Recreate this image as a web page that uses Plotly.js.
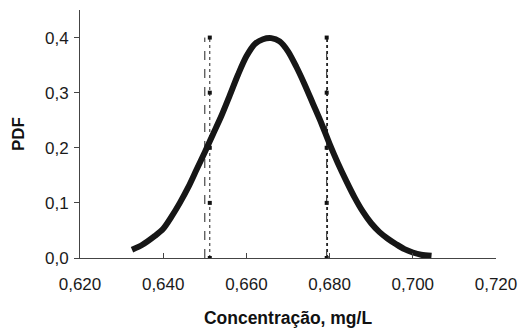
<!DOCTYPE html>
<html>
<head>
<meta charset="utf-8">
<script src="https://cdn.plot.ly/plotly-3.0.1.min.js"></script>
<style>html,body{margin:0;padding:0;background:#fff;}#chart{width:519px;height:328px;}</style>
</head>
<body>
<div id="chart"></div>
<script>
// PDF curve
const concentration = [0.6325, 0.635, 0.638, 0.640, 0.642, 0.644, 0.646, 0.648, 0.650, 0.652, 0.654, 0.656, 0.658, 0.660, 0.662, 0.664, 0.666, 0.668, 0.670, 0.672, 0.674, 0.676, 0.678, 0.680, 0.682, 0.684, 0.686, 0.688, 0.690, 0.692, 0.694, 0.696, 0.698, 0.700, 0.702, 0.7045];
const pdf = [0.015, 0.024, 0.040, 0.053, 0.075, 0.100, 0.128, 0.160, 0.192, 0.225, 0.258, 0.295, 0.333, 0.366, 0.388, 0.397, 0.399, 0.393, 0.375, 0.347, 0.315, 0.280, 0.245, 0.207, 0.172, 0.140, 0.110, 0.084, 0.063, 0.047, 0.035, 0.025, 0.016, 0.010, 0.006, 0.004];

// Vertical limit lines
const limitLowA = 0.6500;
const limitLowB = 0.6512;
const limitHighA = 0.6793;
const limitHighB = 0.6795;
const limitLevels = [0, 0.1, 0.2, 0.3, 0.4];

const xTicks = [0.62, 0.64, 0.66, 0.68, 0.70, 0.72];
const yTicks = [0, 0.1, 0.2, 0.3, 0.4];

function vline(x, dash, withMarkers) {
  return {
    x: limitLevels.map(() => x),
    y: limitLevels,
    mode: withMarkers ? 'lines+markers' : 'lines',
    line: {color: '#222', width: 1, dash: dash},
    marker: {symbol: 'square', size: 4, color: '#111'},
    hoverinfo: 'skip',
    showlegend: false
  };
}

const traces = [
  vline(limitLowA, 'dash', false),
  vline(limitLowB, 'dot', true),
  vline(limitHighA, 'dashdot', true),
  vline(limitHighB, 'dot', false),
  {
    x: concentration,
    y: pdf,
    mode: 'lines',
    line: {color: '#161616', width: 6, shape: 'spline', smoothing: 0.8},
    showlegend: false
  }
];

const layout = {
  width: 519,
  height: 328,
  margin: {l: 80, r: 23, t: 10, b: 70},
  paper_bgcolor: '#fff',
  plot_bgcolor: '#fff',
  separators: ',.',
  font: {family: 'Liberation Sans, Arial, sans-serif', size: 17, color: '#1a1a1a'},
  xaxis: {
    range: [0.62, 0.72],
    tickvals: xTicks,
    tickformat: '.3f',
    showgrid: false,
    zeroline: false,
    showline: true,
    linecolor: '#444',
    linewidth: 1,
    ticks: 'inside',
    ticklen: 5,
    tickcolor: '#444',
    ticklabelstandoff: 11,
    title: {text: '<b>Concentração, mg/L</b>', font: {size: 17.5, color: '#111'}, standoff: 20}
  },
  yaxis: {
    range: [0, 0.45],
    tickvals: yTicks,
    tickformat: '.1f',
    showgrid: false,
    zeroline: false,
    showline: true,
    linecolor: '#444',
    linewidth: 1,
    ticks: 'outside',
    ticklen: 5,
    tickcolor: '#444',
    ticklabelstandoff: 2,
    title: {text: '<b>PDF</b>', font: {size: 17, color: '#111'}, standoff: 16}
  }
};

Plotly.newPlot('chart', traces, layout, {displayModeBar: false, staticPlot: true});
</script>
</body>
</html>
